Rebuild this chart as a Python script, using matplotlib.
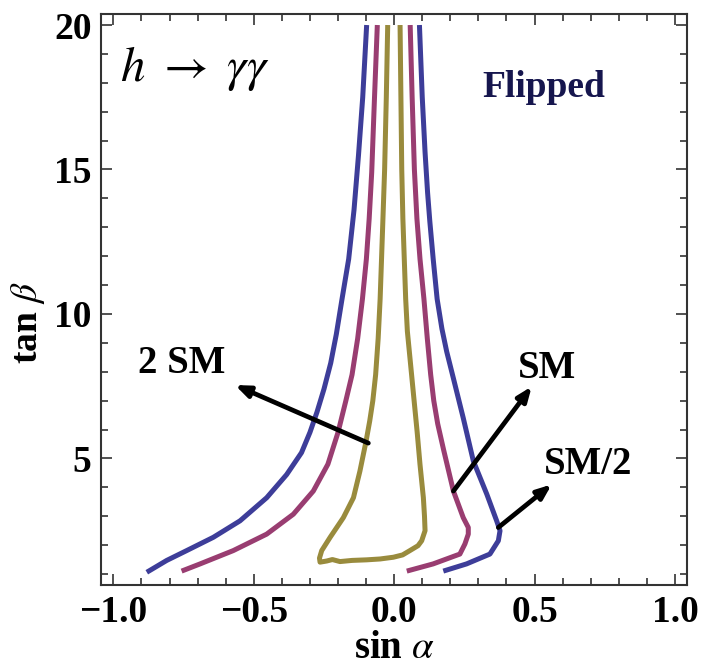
import matplotlib
matplotlib.use("Agg")
import matplotlib.pyplot as plt
from matplotlib.ticker import MultipleLocator

plt.rcParams['mathtext.fontset'] = 'stix'

# ---- data ----
blue_left_x = [-0.881, -0.810, -0.739, -0.644, -0.549, -0.454, -0.383, -0.330, -0.300, -0.275,
               -0.250, -0.226, -0.206, -0.186, -0.162, -0.143, -0.127, -0.112, -0.098]
blue_left_y = [1.06, 1.47, 1.81, 2.27, 2.84, 3.64, 4.44, 5.20, 5.90, 6.60,
               7.40, 8.30, 9.30, 10.5, 11.9, 13.6, 15.5, 17.5, 20.0]

blue_right_x = [0.090, 0.100, 0.110, 0.119, 0.127, 0.139, 0.153, 0.170, 0.187, 0.211, 0.246,
                0.282, 0.330, 0.365, 0.377, 0.371, 0.341, 0.258, 0.175]
blue_right_y = [20.0, 17.5, 15.6, 14.2, 13.2, 11.90, 10.52, 9.49, 8.70, 7.77, 6.40,
                4.91, 3.76, 2.84, 2.50, 2.15, 1.69, 1.35, 1.10]

mag_left_x = [-0.757, -0.691, -0.573, -0.454, -0.359, -0.288, -0.236, -0.200, -0.172, -0.150,
              -0.130, -0.113, -0.099, -0.089, -0.080, -0.070, -0.060]
mag_left_y = [1.10, 1.35, 1.81, 2.38, 3.07, 3.87, 4.80, 5.90, 7.00, 7.90,
              9.15, 10.52, 11.90, 13.3, 14.9, 17.5, 20.0]

mag_right_x = [0.057, 0.064, 0.072, 0.081, 0.092, 0.106, 0.118, 0.130, 0.141, 0.155, 0.176,
               0.211, 0.246, 0.264, 0.264, 0.252, 0.234, 0.139, 0.045]
mag_right_y = [20.0, 17.5, 15.0, 13.3, 11.90, 10.52, 9.15, 7.90, 7.00, 6.20, 5.30,
               3.87, 2.95, 2.61, 2.38, 2.04, 1.69, 1.35, 1.10]

olive_x = [-0.023, -0.028, -0.034, -0.040, -0.045, -0.050, -0.057, -0.066, -0.076, -0.087,
           -0.100, -0.122, -0.145, -0.181, -0.228, -0.258, -0.266, -0.264, -0.240, -0.220,
           -0.193, -0.150, -0.098, -0.050, -0.003, 0.030, 0.056, 0.085, 0.098, 0.110,
           0.108, 0.104, 0.092, 0.082, 0.072, 0.063, 0.055, 0.047, 0.041, 0.036, 0.031,
           0.027, 0.024, 0.021]
olive_y = [20.0, 17.5, 15.0, 13.3, 11.90, 10.52, 9.15, 7.90, 7.00, 6.30,
           5.60, 4.56, 3.64, 2.95, 2.27, 1.81, 1.55, 1.41, 1.45, 1.50,
           1.43, 1.47, 1.49, 1.52, 1.58, 1.66, 1.81, 1.98, 2.15, 2.50,
           3.00, 3.64, 4.79, 5.90, 6.90, 7.80, 8.60, 9.40, 10.52, 11.90, 13.3,
           15.0, 17.5, 20.0]

labels = ["2 SM", "SM", "SM/2"]
label_xy = [(-0.757, 8.28), (0.543, 8.11), (0.692, 4.79)]
arrow_tail = [(-0.092, 5.53), (0.211, 3.87), (0.371, 2.61)]
arrow_head = [(-0.567, 7.54), (0.490, 7.49), (0.561, 4.10)]

x_ticks = [-1.0, -0.5, 0.0, 0.5, 1.0]
x_tick_labels = ['\u22121.0', '\u22120.5', '0.0', '0.5', '1.0']
y_ticks = [5, 10, 15, 20]

BLUE = '#3d3d99'
MAG = '#993d71'
OLIVE = '#998b3d'
SERIF = 'Liberation Serif'

fig = plt.figure(figsize=(7.04, 6.69), dpi=100)
ax = fig.add_axes([0.1439, 0.1256, 0.832, 0.8534])

lw = 3.6
ax.plot(blue_left_x, blue_left_y, color=BLUE, lw=lw, solid_capstyle='butt')
ax.plot(blue_right_x, blue_right_y, color=BLUE, lw=lw, solid_capstyle='butt')
ax.plot(mag_left_x, mag_left_y, color=MAG, lw=lw, solid_capstyle='butt')
ax.plot(mag_right_x, mag_right_y, color=MAG, lw=lw, solid_capstyle='butt')
ax.plot(olive_x, olive_y, color=OLIVE, lw=lw, solid_capstyle='butt')

for t, h, lab, pos in zip(arrow_tail, arrow_head, labels, label_xy):
    ax.annotate('', xy=h, xytext=t,
                arrowprops=dict(arrowstyle='-|>,head_length=0.85,head_width=0.34',
                                color='black', lw=3.4, shrinkA=0, shrinkB=0))
    ax.text(pos[0], pos[1], lab, fontsize=28, fontweight='bold',
            family=SERIF, ha='center', va='center', color='black')

ax.text(-0.975, 18.5, r"$h\ \rightarrow\ \gamma\gamma$", fontsize=35, ha='left', va='center')
ax.text(0.313, 17.85, "Flipped", fontsize=27, fontweight='bold', family=SERIF,
        color='#16164e', ha='left', va='center')

ax.set_xlim(-1.043, 1.043)
ax.set_ylim(0.62, 20.38)
ax.set_xticks(x_ticks)
ax.set_xticklabels(x_tick_labels)
ax.set_yticks(y_ticks)
ax.xaxis.set_minor_locator(MultipleLocator(0.1))
ax.yaxis.set_minor_locator(MultipleLocator(1))
ax.tick_params(which='both', direction='in', top=True, right=True, width=1.2, color='#333333')
ax.tick_params(which='major', length=8, pad=7, labelsize=27)
ax.tick_params(which='minor', length=5)
for lbl in ax.get_xticklabels() + ax.get_yticklabels():
    lbl.set_fontfamily(SERIF)
    lbl.set_fontweight('bold')
for s in ax.spines.values():
    s.set_linewidth(1.5)
    s.set_color('#333333')

ax.set_xlabel(r"sin $\alpha$", fontsize=28, fontweight='bold', family=SERIF)
ax.set_ylabel(r"tan $\beta$", fontsize=27, fontweight='bold', family=SERIF)
ax.xaxis.set_label_coords(0.5, -0.078)
ax.yaxis.set_label_coords(-0.093, 0.46)

fig.savefig('out.png', dpi=100)
